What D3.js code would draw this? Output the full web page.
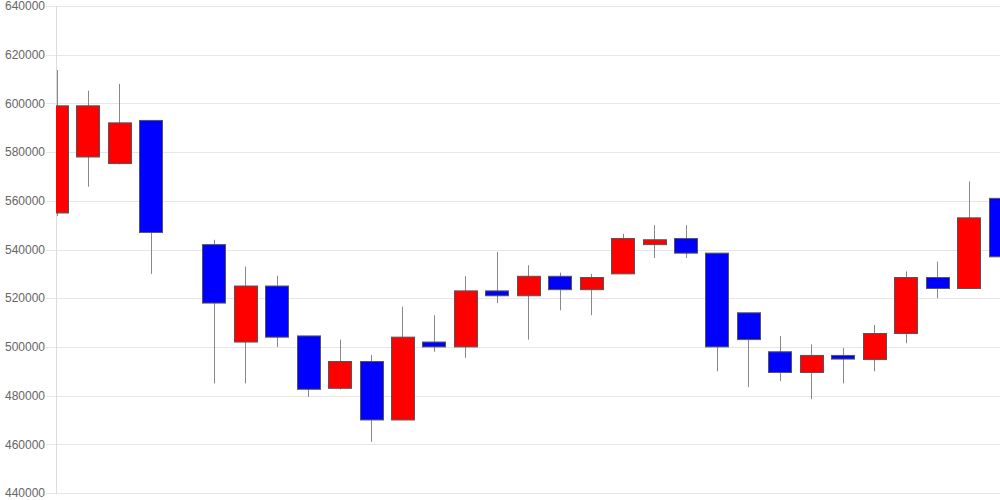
<!DOCTYPE html>
<meta charset="utf-8">
<style>
    body { margin: 0; background: #fff; }
    .tick-label { font-family: "Liberation Sans", Arial, sans-serif; font-size: 12px; fill: #666; }
</style>
<body>
<script src="https://d3js.org/d3.v7.min.js"></script>
<script>

// Daily candles, slot 4 is an empty day (no trading)
var opens  = [555000, 578000, 575300, 593000, null, 542000, 502000, 525000, 504500, 483000, 494000, 470000, 502000, 500000, 523000, 521000, 529000, 523500, 530000, 542000, 544500, 538500, 514000, 498000, 489500, 496500, 494800, 505500, 528500, 524000, 561000];
var highs  = [613700, 605200, 608000, 593000, null, 544000, 533000, 529200, 504500, 503000, 496700, 516500, 513000, 529000, 539000, 533500, 530500, 530000, 546500, 550000, 550000, 538500, 514000, 504500, 501000, 499500, 509000, 531000, 535000, 568000, 561000];
var lows   = [553700, 565800, 575000, 530000, null, 485000, 485000, 500000, 479500, 482500, 461000, 470000, 498000, 495500, 518000, 503000, 515000, 513000, 530000, 536500, 536500, 490000, 483500, 486000, 478500, 485000, 490000, 501500, 520000, 524000, 525000];
var closes = [599000, 599000, 592000, 547000, null, 518000, 525000, 504000, 482600, 494000, 470000, 504000, 500000, 523000, 521000, 529000, 523500, 528500, 544500, 544000, 538500, 500000, 503000, 489500, 496500, 495000, 505500, 528500, 524000, 553000, 537000];
var yTicks = [440000, 460000, 480000, 500000, 520000, 540000, 560000, 580000, 600000, 620000, 640000];

var width = 1000, height = 500;
var plot = {left: 56.5, right: 1000, top: 6, bottom: 493};
var bodyWidth = 23;

var svg = d3.select("body").append("svg")
    .attr("width", width)
    .attr("height", height);

var x = d3.scaleLinear()
    .domain([0, opens.length - 1])
    .range([plot.left, plot.right]);

var y = d3.scaleLinear()
    .domain([440000, 640000])
    .range([plot.bottom, plot.top]);

// gridlines + labels
var grid = svg.append("g");
grid.selectAll("line")
    .data(yTicks)
    .enter().append("line")
    .attr("x1", 46)
    .attr("x2", plot.right)
    .attr("y1", function(d) { return Math.round(y(d)) + 0.5; })
    .attr("y2", function(d) { return Math.round(y(d)) + 0.5; })
    .attr("stroke", "#e6e6e6")
    .attr("stroke-width", 1);

grid.selectAll("text")
    .data(yTicks)
    .enter().append("text")
    .attr("class", "tick-label")
    .attr("x", 45)
    .attr("y", function(d) { return y(d); })
    .attr("dy", "0.35em")
    .attr("text-anchor", "end")
    .text(function(d) { return d; });

svg.append("line")
    .attr("x1", plot.left).attr("x2", plot.left)
    .attr("y1", plot.top).attr("y2", plot.bottom)
    .attr("stroke", "#dcdcdc");

svg.append("clipPath")
    .attr("id", "plot-clip")
    .append("rect")
    .attr("x", plot.left - 0.5)
    .attr("y", 0)
    .attr("width", plot.right - plot.left + 0.5)
    .attr("height", height);

var candles = opens.map(function(o, i) {
    return {i: i, open: o, high: highs[i], low: lows[i], close: closes[i]};
}).filter(function(d) { return d.open !== null; });

var cg = svg.append("g").attr("clip-path", "url(#plot-clip)");

// wicks
cg.selectAll("line.wick")
    .data(candles)
    .enter().append("line")
    .attr("class", "wick")
    .attr("x1", function(d) { return Math.round(x(d.i)) + 0.5; })
    .attr("x2", function(d) { return Math.round(x(d.i)) + 0.5; })
    .attr("y1", function(d) { return y(d.high); })
    .attr("y2", function(d) { return y(d.low); })
    .attr("stroke", "#888")
    .attr("stroke-width", 1);

// bodies: red when closing higher, blue when lower
cg.selectAll("rect.body")
    .data(candles)
    .enter().append("rect")
    .attr("class", "body")
    .attr("x", function(d) { return Math.round(x(d.i) - bodyWidth / 2) + 0.5; })
    .attr("y", function(d) { return y(Math.max(d.open, d.close)); })
    .attr("width", bodyWidth)
    .attr("height", function(d) { return Math.max(1, Math.abs(y(d.open) - y(d.close))); })
    .attr("fill", function(d) { return d.close > d.open ? "#ff0000" : "#0000ff"; })
    .attr("stroke", "#555")
    .attr("stroke-width", 1);

</script>
</body>
